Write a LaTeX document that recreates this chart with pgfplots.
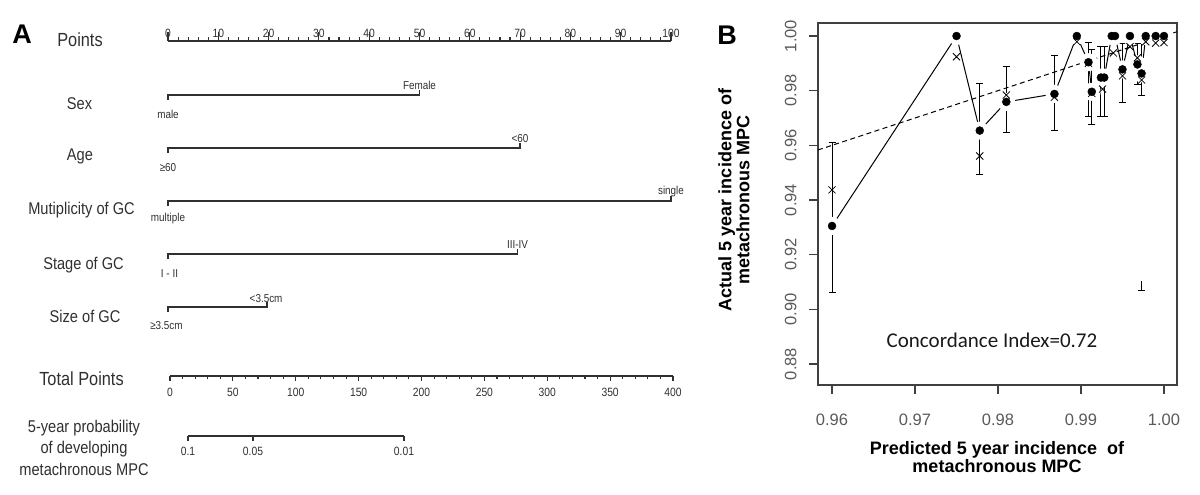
\documentclass[border=0pt]{standalone}
\usepackage{pgfplots}
\pgfplotsset{compat=1.18}
\usepackage{fontspec}
\setmainfont{Liberation Sans}
\newfontfamily\narrow[FakeStretch=0.86]{Liberation Sans}
\newfontfamily\calib{Carlito}

\definecolor{nomo}{HTML}{303030}
\definecolor{tgray}{HTML}{5A5A5A}
\definecolor{boxgray}{HTML}{404040}

\newcommand{\fs}[1]{\fontsize{#1}{#1}\selectfont}

% observed (filled dots)
\pgfplotstableread{
x      y
0.9600 0.9305
0.9750 1.0000
0.9778 0.9654
0.9810 0.9759
0.9868 0.9788
0.9895 1.0000
0.9909 0.9904
0.9913 0.9796
0.9924 0.9848
0.9928 0.9848
0.9937 1.0000
0.9941 1.0000
0.9950 0.9878
0.9959 1.0000
0.9968 0.9896
0.9973 0.9863
0.9978 1.0000
0.9990 1.0000
1.0000 1.0000
}\observed

% error bars of the observed values
\pgfplotstableread{
x      y      ep     em
0.9600 0.9305 0.0307 0.0245
0.9778 0.9654 0.0173 0.0161
0.9810 0.9759 0.0129 0.0113
0.9868 0.9788 0.0142 0.0134
0.9909 0.9904 0.0071 0.0197
0.9913 0.9796 0.0153 0.0118
0.9924 0.9848 0.0113 0.0143
0.9928 0.9848 0.0113 0.0143
0.9950 0.9878 0.0093 0.0120
0.9968 0.9896 0.0078 0.0075
0.9973 0.9863 0.0111 0.0079
}\errs

% bias-corrected (x marks)
\pgfplotstableread{
x      y
0.9600 0.9437
0.9750 0.9924
0.9778 0.9561
0.9810 0.9784
0.9868 0.9776
0.9895 0.9979
0.9909 0.9900
0.9913 0.9790
0.9926 0.9806
0.9939 0.9938
0.9950 0.9854
0.9959 0.9961
0.9968 0.9920
0.9973 0.9839
0.9978 0.9979
0.9990 0.9974
1.0000 0.9976
}\corrected

\pgfplotsset{
  nomoscale/.style={scale only axis, hide y axis, ymin=0, ymax=1, height=10pt,
    axis x line=bottom,
    x axis line style={-, line width=1.4pt, color=nomo},
    every outer x axis line/.append style={-},
    tick style={line width=1.1pt, color=nomo},
    /pgf/number format/assume math mode=true,
    xticklabel style={font=\narrow\fs{12}, text=nomo}},
  nomoline/.style={nomo, line width=1.4pt},
  ebar/.style={draw=none, mark=none, forget plot,
    error bars/y explicit,
    error bars/error bar style={draw=black, line width=1pt},
    error bars/error mark options={draw=black, line width=1pt, mark size=3.5pt, rotate=90}},
}

\begin{document}
\begin{tikzpicture}
\path[use as bounding box] (0,0) rectangle (1200pt,-495pt);

% ---------------- panel A: nomogram ----------------
% Points scale: ticks pointing up, numbers above the line
\begin{axis}[nomoscale, at={(168pt,-41pt)}, anchor=south west, width=503pt,
  xmin=0, xmax=100, tick align=inside,
  xtick distance=10, minor x tick num=4,
  major tick length=9pt, minor tick length=3.5pt,
  xticklabel style={anchor=base, yshift=3pt}]
\end{axis}

\begin{axis}[at={(168pt,0pt)}, anchor=north west, scale only axis,
  width=503pt, height=495pt, xmin=0, xmax=100, ymin=0, ymax=495,
  y dir=reverse, axis lines=none, clip=false]
\addplot[nomoline] coordinates {(0,100) (0,95) (50,95) (50,90)};
\addplot[nomoline] coordinates {(0,153) (0,148) (70,148) (70,143)};
\addplot[nomoline] coordinates {(0,206) (0,201) (100,201) (100,196)};
\addplot[nomoline] coordinates {(0,259) (0,254) (69.5,254) (69.5,249)};
\addplot[nomoline] coordinates {(0,312) (0,307) (19.7,307) (19.7,302)};
\begin{scope}[every node/.style={font=\narrow\fs{11.5}, text=nomo, anchor=base, inner sep=0pt}]
\node at (axis cs:0,118) {male};
\node at (axis cs:50,89) {Female};
\node at (axis cs:0,171) {≥60};
\node at (axis cs:70,142) {<60};
\node at (axis cs:0,221.5) {multiple};
\node at (axis cs:100,194) {single};
\node at (axis cs:0.3,277) {I - II};
\node at (axis cs:69.5,248) {III-IV};
\node at (axis cs:19.5,302) {<3.5cm};
\node at (axis cs:-0.3,329) {≥3.5cm};
\end{scope}
\end{axis}

\begin{axis}[nomoscale, at={(170pt,-376pt)}, anchor=south west, width=503pt,
  xmin=0, xmax=400, tick align=outside,
  xtick distance=50, minor x tick num=4,
  major tick length=5pt, minor tick length=3pt,
  xticklabel style={yshift=-4pt}]
\end{axis}

\begin{axis}[nomoscale, at={(188pt,-436pt)}, anchor=south west, width=216pt,
  xmin=14.3, xmax=186.1, tick align=outside,
  xtick={14.3,66,186.1}, xticklabels={0.1,0.05,0.01},
  major tick length=5pt, xticklabel style={yshift=-3pt}]
\end{axis}

\begin{scope}[every node/.style={text=nomo, anchor=base, inner sep=0pt}]
\node[font=\bfseries\fs{27}, text=black] at (22pt,-43.5pt) {A};
\node[font=\narrow\fs{19}] at (80pt,-46.8pt) {Points};
\node[font=\narrow\fs{17}] at (79.5pt,-109.6pt) {Sex};
\node[font=\narrow\fs{17}] at (80pt,-160pt) {Age};
\node[font=\narrow\fs{17}] at (81.5pt,-214pt) {Mutiplicity of GC};
\node[font=\narrow\fs{17}] at (83.5pt,-269pt) {Stage of GC};
\node[font=\narrow\fs{17}] at (85pt,-322pt) {Size of GC};
\node[font=\narrow\fs{19}] at (81.5pt,-385pt) {Total Points};
\node[font=\narrow\fs{17}] at (84pt,-432pt) {5-year probability};
\node[font=\narrow\fs{17}] at (84pt,-453.5pt) {of developing};
\node[font=\narrow\fs{17}] at (84pt,-475pt) {metachronous MPC};
\end{scope}

% ---------------- panel B: calibration ----------------
\begin{axis}[at={(818pt,-385pt)}, anchor=south west, scale only axis,
  width=359pt, height=362pt,
  xmin=0.95831, xmax=1.00157, ymin=0.8723, ymax=1.00476,
  axis line style={boxgray, line width=1.3pt},
  tick style={boxgray, line width=1.1pt},
  tick align=outside, major tick length=9pt,
  xtick pos=left, ytick pos=left,
  xtick={0.96,0.97,0.98,0.99,1.00},
  xticklabels={0.96,0.97,0.98,0.99,1.00},
  ytick={0.88,0.90,0.92,0.94,0.96,0.98,1.00},
  yticklabels={0.88,0.90,0.92,0.94,0.96,0.98,1.00},
  ticklabel style={font=\fs{16.5}, text=tgray},
  xticklabel style={yshift=-16pt},
  yticklabel style={rotate=90, anchor=south, yshift=9pt},
  clip=false]
% observed, joined, with gaps round the points
\addplot[black, line width=1pt, mark=*, mark size=8.5pt,
  mark options={draw=white, fill=white}] table[x=x, y=y] {\observed};
% ideal line
\addplot[black, line width=1pt, dash pattern=on 5pt off 3.5pt]
  coordinates {(0.95831,0.95831) (1.00157,1.00157)};
% error bars
\addplot[ebar, error bars/y dir=both]
  table[x=x, y=y, y error plus=ep, y error minus=em] {\errs};
\addplot[ebar, error bars/y dir=minus]
  coordinates {(0.9973,0.9103) -= (0,0.0036)};
% bias-corrected
\addplot[only marks, mark=x, mark size=5pt, black, mark options={line width=0.8pt}]
  table[x=x, y=y] {\corrected};
% observed points
\addplot[only marks, mark=*, mark size=4pt, black] table[x=x, y=y] {\observed};
\end{axis}

\node[font=\calib\fs{21}, text=black!90] at (992pt,-340pt) {Concordance Index=0.72};
\node[font=\bfseries\fs{18}, align=center, text=black] at (997pt,-457.5pt)
  {\fontsize{18}{21}\selectfont Predicted 5 year incidence \ of\\metachronous MPC};
\node[font=\bfseries\fs{18}, align=center, text=black, rotate=90] at (734pt,-200pt)
  {\fontsize{18}{19.5}\selectfont Actual 5 year incidence of\\metachronous MPC};
\node[font=\bfseries\fs{27}, anchor=base, inner sep=0pt] at (727pt,-45pt) {B};
\end{tikzpicture}
\end{document}
